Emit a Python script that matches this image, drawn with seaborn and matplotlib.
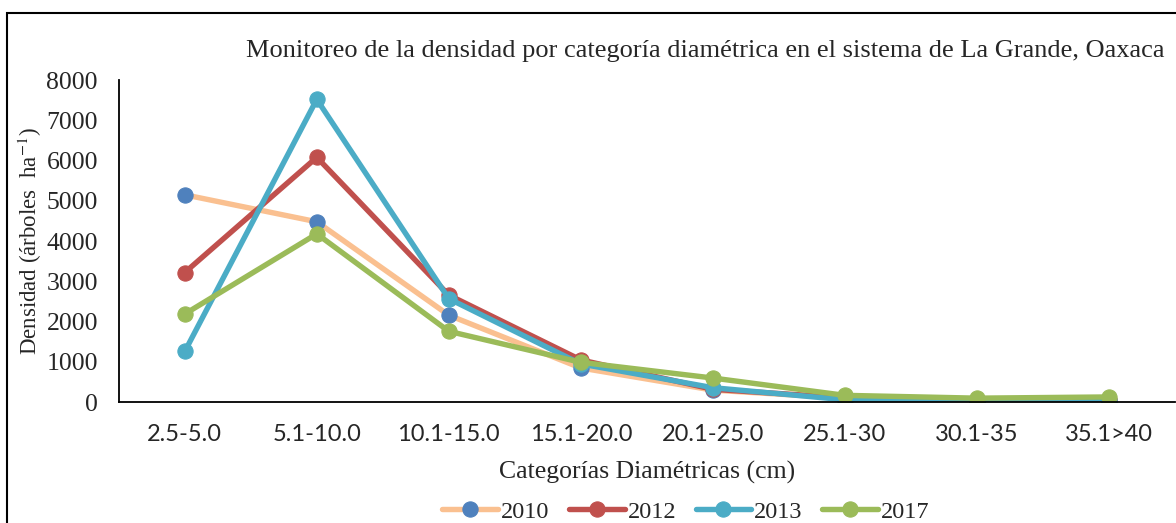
import matplotlib
matplotlib.use("Agg")
import matplotlib.pyplot as plt
import seaborn as sns
from matplotlib.patches import Rectangle

# diameter categories and density per year (trees per ha)
categorias = ["2.5-5.0", "5.1-10.0", "10.1-15.0", "15.1-20.0",
              "20.1-25.0", "25.1-30", "30.1-35", "35.1>40"]
d2010 = [5150, 4480, 2160, 850, 300, 100, 40, 50]
d2012 = [3220, 6080, 2660, 1050, 320, 110, 30, 50]
d2013 = [1260, 7520, 2570, 950, 360, 60, 10, 30]
d2017 = [2190, 4180, 1760, 990, 600, 170, 100, 130]

years = ["2010", "2012", "2013", "2017"]
line_colors = ["#FAC090", "#C0504D", "#4BACC6", "#9BBB59"]
marker_colors = ["#4F81BD", "#C0504D", "#4BACC6", "#9BBB59"]

sns.set_style("white")
plt.rcParams["font.family"] = ["Liberation Serif", "DejaVu Serif"]
plt.rcParams["mathtext.fontset"] = "stix"

fig = plt.figure(figsize=(11.76, 5.23), dpi=100)
ax = fig.add_axes([0.101, 0.231, 0.898, 0.616])

for year, vals, lc, mc in zip(years, [d2010, d2012, d2013, d2017], line_colors, marker_colors):
    sns.lineplot(x=categorias, y=vals, ax=ax, sort=False, color=lc, linewidth=3.9,
                 marker="o", markersize=11, markerfacecolor=mc, markeredgecolor=mc,
                 label=year)

ax.set_xlim(-0.5, 7.5)
ax.set_ylim(0, 8000)
ax.set_yticks(range(0, 8001, 1000))
sns.despine(ax=ax)
for side in ["left", "bottom"]:
    ax.spines[side].set_color("black")
    ax.spines[side].set_linewidth(1.3)
ax.tick_params(axis="both", length=0)
ax.tick_params(axis="y", labelsize=18.5, pad=15)
ax.tick_params(axis="x", pad=16)
for lbl in ax.get_xticklabels():
    lbl.set_fontfamily(["Lato", "DejaVu Sans"])
    lbl.set_fontsize(17)

ax.set_xlabel("Categorías Diamétricas (cm)", fontsize=18.5, labelpad=11)
ax.set_ylabel("Densidad (árboles  ha$^{-1}$)", fontsize=16.5, labelpad=2)
fig.text(0.990, 0.902, "Monitoreo de la densidad por categoría diamétrica en el sistema de La Grande, Oaxaca",
         ha="right", va="center", fontsize=19)

ax.legend(loc="center", bbox_to_anchor=(0.537, -0.34), ncol=4, frameon=False,
          fontsize=17.5, handlelength=2.3, handletextpad=0.12, columnspacing=0.8,
          borderaxespad=0, borderpad=0)

fig.patches.append(Rectangle((0.006, -0.1), 1.1, 1.075, transform=fig.transFigure,
                             fill=False, edgecolor="black", linewidth=1.5))

fig.savefig("out.png", dpi=100)
